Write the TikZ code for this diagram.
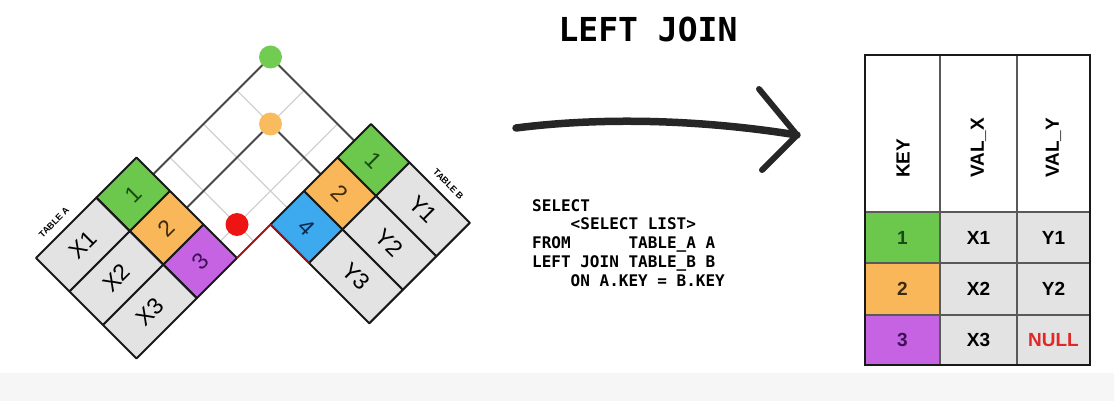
\documentclass[tikz,border=0pt]{standalone}
\usepackage{fontspec}
\setmainfont{Liberation Sans}
\newfontfamily\codefont{DejaVu Sans Mono}
\definecolor{kgreen}{HTML}{6CC84C}
\definecolor{korange}{HTML}{F9B75A}
\definecolor{kpurple}{HTML}{C663E3}
\definecolor{kblue}{HTML}{3DAAF0}
\definecolor{vgray}{HTML}{E3E3E3}
\definecolor{nullred}{HTML}{E02828}
\definecolor{dred}{HTML}{A01414}
\definecolor{tgreen}{HTML}{1B4A14}
\definecolor{tbrown}{HTML}{3E2A0C}
\definecolor{tpurple}{HTML}{3F1058}
\definecolor{tblue}{HTML}{0C2A4C}
\definecolor{dotred}{HTML}{EE1414}
\definecolor{dotgreen}{HTML}{72CC52}
\definecolor{dotorange}{HTML}{F8BC5E}
\definecolor{bandgray}{HTML}{F6F6F6}
\newcommand\dcell[5]{\filldraw[cellbd, fill=#1] (#2,#3) -- (#4,#3) -- (#4,#5) -- (#2,#5) -- cycle;}
\tikzset{
  darkln/.style={draw=black!72, line width=2pt},
  grayln/.style={draw=black!18, line width=1.2pt},
  cellbd/.style={draw=black!90, line width=2pt, line join=round},
  dotnode/.style={circle, minimum size=23pt, inner sep=0pt},
  dtxt/.style={font=\fontsize{23}{23}\selectfont, inner sep=0pt},
  lbl/.style={font=\bfseries\fontsize{9}{9}\selectfont, inner sep=0pt},
  tgrid/.style={draw=black!65, line width=2pt},
  touter/.style={draw=black!90, line width=2.6pt},
  htxt/.style={font=\bfseries\fontsize{19}{19}\selectfont, rotate=90, anchor=west, inner sep=0pt},
  ttxt/.style={font=\bfseries\fontsize{19}{19}\selectfont, inner sep=0pt},
}
\begin{document}
\begin{tikzpicture}[x=1pt,y=1pt]
\useasboundingbox (0,0) rectangle (1114,-401);
\fill[bandgray] (0,-373) rectangle (1114,-401);

% ---------- diamond tables ----------
\begin{scope}[shift={(237pt,-258pt)}, x={(-33.5pt,33.5pt)}, y={(33.5pt,33.5pt)}]
  \coordinate (C) at (0,0);
  \coordinate (A1s) at (2.5,0);
  \coordinate (A2s) at (1.5,0);
  \coordinate (A3s) at (0.5,0);
  \coordinate (A2e) at (1.5,3.5);
  \coordinate (A3e) at (0.5,3.5);
  \coordinate (B1s) at (0,3.5);
  \coordinate (B2s) at (0,2.5);
  \coordinate (B3s) at (0,1.5);
  \coordinate (B4s) at (0,0.5);
  \coordinate (B2e) at (2.5,2.5);
  \coordinate (B3e) at (2.5,1.5);
  \coordinate (B4e) at (2.5,0.5);
  \coordinate (Bk) at (0,1);
  \coordinate (Bk2) at (-1.15,1);
  \coordinate (Gp) at (2.5,3.5);
  \coordinate (Op) at (1.5,2.5);
  \coordinate (Rp) at (0.5,0.5);

  \draw[grayln] (A3s) -- (A3e);
  \draw[grayln] (B3s) -- (B3e);
  \draw[grayln] (B4s) -- (B4e);
  \draw[grayln] (Op) -- (A2e);
  \draw[grayln] (Op) -- (B2e);
  \draw[darkln] (A1s) -- (Gp);
  \draw[darkln] (B1s) -- (Gp);
  \draw[darkln] (A2s) -- (Op);
  \draw[darkln] (B2s) -- (Op);

  % table A
  \dcell{kgreen}{2}{-1.2}{3}{0}
  \dcell{korange}{1}{-1.2}{2}{0}
  \dcell{kpurple}{0}{-1.2}{1}{0}
  \dcell{vgray}{2}{-3}{3}{-1.2}
  \dcell{vgray}{1}{-3}{2}{-1.2}
  \dcell{vgray}{0}{-3}{1}{-1.2}
  \node[dtxt, rotate=45, text=tgreen] (ka1) at (2.5,-0.6) {1};
  \node[dtxt, rotate=45, text=tbrown] (ka2) at (1.5,-0.6) {2};
  \node[dtxt, rotate=45, text=tpurple] (ka3) at (0.5,-0.6) {3};
  \node[dtxt, rotate=45] (xa1) at (2.5,-2.1) {X1};
  \node[dtxt, rotate=45] (xa2) at (1.5,-2.1) {X2};
  \node[dtxt, rotate=45] (xa3) at (0.5,-2.1) {X3};
  \node[lbl, rotate=45] (tA) at (3.26,-2.2) {TABLE A};

  % table B
  \dcell{kgreen}{-1.15}{3}{0}{4}
  \dcell{korange}{-1.15}{2}{0}{3}
  \dcell{kblue}{-1.15}{1}{0}{2}
  \dcell{vgray}{-2.95}{3}{-1.15}{4}
  \dcell{vgray}{-2.95}{2}{-1.15}{3}
  \dcell{vgray}{-2.95}{1}{-1.15}{2}
  \node[dtxt, rotate=-45, text=tgreen] (kb1) at (-0.575,3.5) {1};
  \node[dtxt, rotate=-45, text=tbrown] (kb2) at (-0.575,2.5) {2};
  \node[dtxt, rotate=-45, text=tblue] (kb3) at (-0.575,1.5) {4};
  \node[dtxt, rotate=-45] (yb1) at (-2.05,3.5) {Y1};
  \node[dtxt, rotate=-45] (yb2) at (-2.05,2.5) {Y2};
  \node[dtxt, rotate=-45] (yb3) at (-2.05,1.5) {Y3};
  \node[lbl, rotate=-45] (tB) at (-2.05,4.26) {TABLE B};

  \draw[draw=dred, line width=2pt, line join=round] (C) -- (Bk) -- (Bk2);

  \node[dotnode, fill=dotgreen] (g) at (Gp) {};
  \node[dotnode, fill=dotorange] (o) at (Op) {};
  \node[dotnode, fill=dotred] (r) at (Rp) {};
\end{scope}

% ---------- title ----------
\node[font=\codefont\bfseries\fontsize{33}{33}\selectfont, inner sep=0pt] (title) at (648,-29) {LEFT JOIN};

% ---------- arrow ----------
\coordinate (arrS) at (516,-128);
\coordinate (arrE) at (797,-135);
\coordinate (arrU) at (759,-89);
\coordinate (arrL) at (762,-170);
\draw[line width=7.5pt, line cap=round, draw=black!85] (arrS) .. controls (610,-116) and (710,-121) .. (arrE);
\draw[line width=6pt, line cap=round, line join=round, draw=black!85] (arrU) -- (arrE) -- (arrL);

% ---------- SQL ----------
\node[anchor=north west, inner sep=0pt, align=left,
      font=\codefont\bfseries\fontsize{16}{18.75}\selectfont] (sql) at (532,-199)
{SELECT\\
~~~~<SELECT LIST>\\
FROM~~~~~~TABLE\_A A\\
LEFT JOIN TABLE\_B B\\
~~~~ON A.KEY = B.KEY};

% ---------- result table ----------
\fill[white] (865,-55) rectangle (1090,-212);
\fill[kgreen] (865,-212) rectangle (940,-263);
\fill[korange] (865,-263) rectangle (940,-315);
\fill[kpurple] (865,-315) rectangle (940,-365);
\fill[vgray] (940,-212) rectangle (1090,-365);
\draw[tgrid] (940,-55) -- (940,-365);
\draw[tgrid] (1017,-55) -- (1017,-365);
\draw[tgrid] (865,-212) -- (1090,-212);
\draw[tgrid] (865,-263) -- (1090,-263);
\draw[tgrid] (865,-315) -- (1090,-315);
\draw[touter] (865,-55) rectangle (1090,-365);

\node[htxt] (hkey) at (903,-178) {KEY};
\node[htxt] (hvx) at (978.5,-178) {VAL\_X};
\node[htxt] (hvy) at (1053.5,-178) {VAL\_Y};

\node[ttxt, text=tgreen] (r1k) at (902.5,-237.5) {1};
\node[ttxt, text=tbrown] (r2k) at (902.5,-289) {2};
\node[ttxt, text=tpurple] (r3k) at (902.5,-340) {3};
\node[ttxt] (r1x) at (978.5,-237.5) {X1};
\node[ttxt] (r2x) at (978.5,-289) {X2};
\node[ttxt] (r3x) at (978.5,-340) {X3};
\node[ttxt] (r1y) at (1053.5,-237.5) {Y1};
\node[ttxt] (r2y) at (1053.5,-289) {Y2};
\node[ttxt, text=nullred] (r3y) at (1053.5,-340) {NULL};
\end{tikzpicture}
\end{document}
